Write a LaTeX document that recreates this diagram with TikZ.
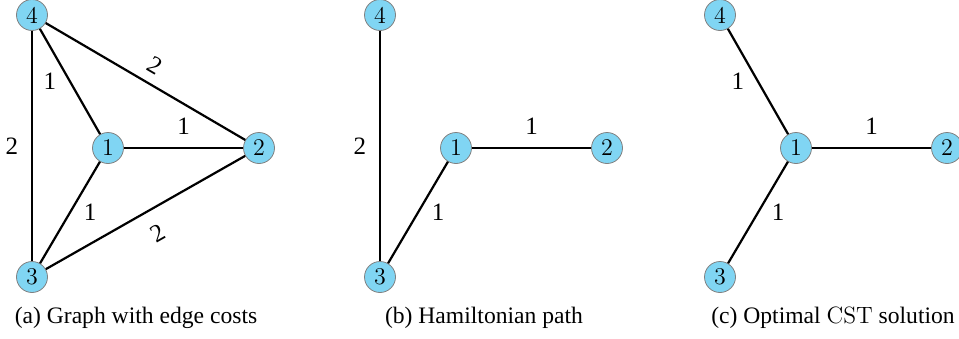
\documentclass[tikz,border=0pt]{standalone}
\usepackage{fontspec}
\newfontfamily\capfont{LiberationSerif}[Extension=.ttf,UprightFont=*-Regular,BoldFont=*-Bold]
\definecolor{nodeblue}{RGB}{128,213,243}
\begin{document}
\begin{tikzpicture}[
 x=.5pt,y=-.5pt,
 line/.style={line width=1.1pt},
 vertex/.style={circle,draw=gray,fill=nodeblue,line width=.4pt,minimum size=15.5pt,inner sep=0pt,font=\fontsize{12}{13}\selectfont},
 cost/.style={font=\capfont\fontsize{12.5}{14}\selectfont},
 caption/.style={font=\capfont\fontsize{11.8}{13}\selectfont}]
 \useasboundingbox (0,0) rectangle (959,338);
 % Graph with all edge costs.
 \begin{scope}[xshift=0pt]
  \node[vertex] (a4) at (32,15){4};
  \node[vertex] (a1) at (108,148){1};
  \node[vertex] (a2) at (259,148){2};
  \node[vertex] (a3) at (32,277){3};
  \draw[line] (a4)--node[cost,left=3pt]{1}(a1);
  \draw[line] (a4)--node[cost,sloped,above=1pt]{2}(a2);
  \draw[line] (a1)--node[cost,above=3pt]{1}(a2);
  \draw[line] (a1)--node[cost,right=3pt]{1}(a3);
  \draw[line] (a3)--node[cost,sloped,below=4pt]{2}(a2);
  \draw[line] (a4)--node[cost,left=3pt]{2}(a3);
  \node[caption] (capa) at (136,318){(a) Graph with edge costs};
 \end{scope}
 % Hamiltonian path 4-3-1-2.
 \begin{scope}[xshift=174pt]
  \node[vertex] (b4) at (32,15){4};
  \node[vertex] (b1) at (108,148){1};
  \node[vertex] (b2) at (259,148){2};
  \node[vertex] (b3) at (32,277){3};
  \draw[line] (b4)--node[cost,left=3pt]{2}(b3);
  \draw[line] (b3)--node[cost,right=3pt]{1}(b1);
  \draw[line] (b1)--node[cost,above=3pt]{1}(b2);
  \node[caption] (capb) at (136,318){(b) Hamiltonian path};
 \end{scope}
 % Star around node 1.
 \begin{scope}[xshift=344pt]
  \node[vertex] (c4) at (32,15){4};
  \node[vertex] (c1) at (108,148){1};
  \node[vertex] (c2) at (259,148){2};
  \node[vertex] (c3) at (32,277){3};
  \draw[line] (c4)--node[cost,left=3pt]{1}(c1);
  \draw[line] (c1)--node[cost,above=3pt]{1}(c2);
  \draw[line] (c1)--node[cost,right=3pt]{1}(c3);
  \node[caption] (capc) at (145,318){(c) Optimal {\rmfamily\fontsize{11.8}{13}\selectfont CST} solution};
 \end{scope}
\end{tikzpicture}
\end{document}
